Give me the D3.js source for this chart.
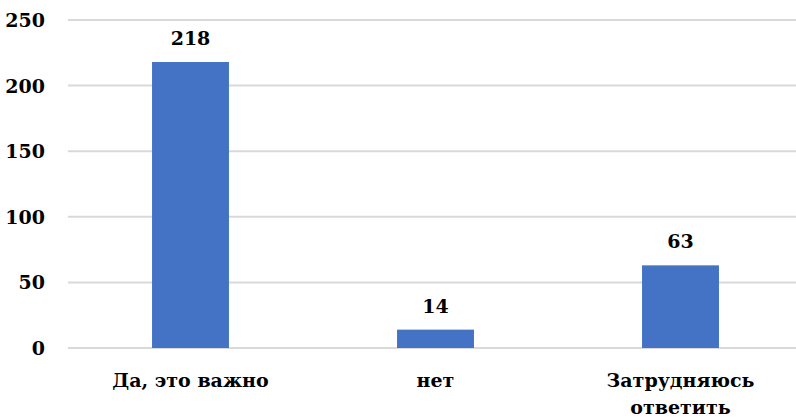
<!DOCTYPE html>
<html>
<head>
<meta charset="utf-8">
<script src="https://cdn.jsdelivr.net/npm/d3@7"></script>
<style>
  body { margin: 0; background: #fff; }
  svg text { font-family: "DejaVu Serif", serif; font-weight: bold; fill: #000; }
</style>
</head>
<body>
<svg id="chart" width="796" height="419"></svg>
<script>
// Data -------------------------------------------------------------
const categories = ["Да, это важно", "нет", "Затрудняюсь ответить"];
const values     = [218, 14, 63];
const yTicks     = [0, 50, 100, 150, 200, 250];

// Layout -----------------------------------------------------------
const svg = d3.select("#chart");
const x0 = 68, x1 = 803, yTop = 20, yBottom = 348;
const fs = "19px";

const x = d3.scaleBand().domain(categories)
    .range([x0, x1])
    .paddingInner(0.686)
    .paddingOuter(0.343);

const y = d3.scaleLinear().domain([0, 250]).range([yBottom, yTop]);

// Gridlines --------------------------------------------------------
svg.append("g").selectAll("line")
  .data(yTicks)
  .join("line")
    .attr("x1", x0).attr("x2", 796)
    .attr("y1", d => y(d)).attr("y2", d => y(d))
    .attr("stroke", "#d9d9d9")
    .attr("stroke-width", 2);

// Y axis labels ----------------------------------------------------
svg.append("g").selectAll("text")
  .data(yTicks)
  .join("text")
    .attr("x", 45)
    .attr("y", d => y(d) + 7)
    .attr("text-anchor", "end")
    .style("font-size", fs)
    .text(d => d);

// Bars -------------------------------------------------------------
svg.append("g").selectAll("rect")
  .data(values)
  .join("rect")
    .attr("x", (d, i) => x(categories[i]))
    .attr("width", x.bandwidth())
    .attr("y", d => y(d))
    .attr("height", d => y(0) - y(d))
    .attr("fill", "#4472c4");

// Value labels -----------------------------------------------------
svg.append("g").selectAll("text")
  .data(values)
  .join("text")
    .attr("x", (d, i) => x(categories[i]) + x.bandwidth() / 2)
    .attr("y", d => y(d) - 17)
    .attr("text-anchor", "middle")
    .style("font-size", fs)
    .text(d => d);

// Category labels (wrap long ones) ---------------------------------
const catG = svg.append("g").selectAll("text")
  .data(categories)
  .join("text")
    .attr("x", d => x(d) + x.bandwidth() / 2)
    .attr("y", 387)
    .attr("text-anchor", "middle")
    .style("font-size", fs);

catG.each(function(d) {
  const lines = d.length > 15 ? d.split(" ") : [d];
  const t = d3.select(this);
  lines.forEach((ln, i) => {
    t.append("tspan")
      .attr("x", t.attr("x"))
      .attr("dy", i === 0 ? 0 : 27)
      .text(ln);
  });
});
</script>
</body>
</html>
